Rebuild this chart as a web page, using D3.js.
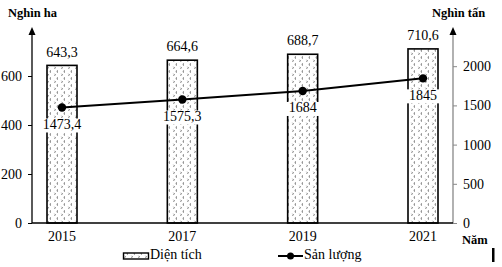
<!DOCTYPE html>
<html><head><meta charset="utf-8">
<script src="https://cdn.jsdelivr.net/npm/d3@7"></script>
<style>
html,body{margin:0;padding:0;background:#fff;}
svg{display:block;}
svg text{font-family:"Liberation Serif","Times New Roman",serif !important;fill:#000;}
</style></head>
<body><svg id="c" width="502" height="267"></svg>
<script>
const years = ["2015", "2017", "2019", "2021"];
const areaValues = [643.3, 664.6, 688.7, 710.6];
const outputValues = [1473.4, 1575.3, 1684, 1845];
const areaLabels = ["643,3", "664,6", "688,7", "710,6"];
const outputLabels = ["1473,4", "1575,3", "1684", "1845"];
const leftTicks = [0, 200, 400, 600];
const rightTicks = [0, 500, 1000, 1500, 2000];

const FS = 14;
const svg = d3.select("#c");
const defs = svg.append("defs");
const pat = defs.append("pattern").attr("id", "pat").attr("patternUnits", "userSpaceOnUse")
  .attr("width", 7).attr("height", 7);
pat.append("rect").attr("width", 7).attr("height", 7).attr("fill", "#fff");
pat.append("path").attr("d", "M2,0.5 L0.8,1.5 L2,2.5 M5.5,3.8 L6.5,4.8 L5.5,5.8")
  .attr("stroke", "#444").attr("stroke-width", 0.8).attr("fill", "none");

const x = d3.scalePoint().domain(years).range([62, 423]);
const yL = d3.scaleLinear().domain([0, 800]).range([223, 27]);
const yR = d3.scaleLinear().domain([0, 2500]).range([223, 27]);
const barW = 30;

// bars
svg.append("g").selectAll("rect").data(years).join("rect")
  .attr("x", d => x(d) - barW / 2)
  .attr("y", (d, i) => yL(areaValues[i]))
  .attr("width", barW)
  .attr("height", (d, i) => yL(0) - yL(areaValues[i]))
  .attr("fill", "url(#pat)")
  .attr("stroke", "#000").attr("stroke-width", 1.6);

// left axis
const gl = svg.append("g").attr("transform", "translate(32,0)")
  .call(d3.axisLeft(yL).tickValues(leftTicks).tickSize(4).tickPadding(6).tickFormat(d3.format("d")));
gl.select(".domain").remove();
gl.selectAll("text").attr("font-size", FS);
gl.selectAll("line").attr("stroke", "#000");
svg.append("line").attr("x1", 32).attr("x2", 32).attr("y1", yL(0)).attr("y2", 34)
  .attr("stroke", "#000").attr("stroke-width", 1.3);
svg.append("path").attr("d", "M32,27 L28.5,35 L35.5,35 Z").attr("fill", "#000");

// right axis
const gr = svg.append("g").attr("transform", "translate(453,0)")
  .call(d3.axisRight(yR).tickValues(rightTicks).tickSize(4).tickPadding(6).tickFormat(d3.format("d")));
gr.select(".domain").remove();
gr.selectAll("text").attr("font-size", FS);
gr.selectAll("line").attr("stroke", "#888");
svg.append("line").attr("x1", 453).attr("x2", 453).attr("y1", yR(0)).attr("y2", 34)
  .attr("stroke", "#888").attr("stroke-width", 1.3);
svg.append("path").attr("d", "M453,27 L449.5,35 L456.5,35 Z").attr("fill", "#000");

// bottom axis
svg.append("line").attr("x1", 32).attr("x2", 453).attr("y1", yL(0)).attr("y2", yL(0))
  .attr("stroke", "#000").attr("stroke-width", 1.6);
svg.append("g").selectAll("text").data(years).join("text")
  .attr("x", d => x(d)).attr("y", 238).attr("text-anchor", "middle").attr("dominant-baseline", "middle")
  .attr("font-size", FS).text(d => d);

// bar labels
svg.append("g").selectAll("text").data(years).join("text")
  .attr("x", d => x(d)).attr("y", (d, i) => yL(areaValues[i]) - 12)
  .attr("text-anchor", "middle").attr("dominant-baseline", "middle")
  .attr("font-size", FS).text((d, i) => areaLabels[i]);

// line label backgrounds + labels
const lab = svg.append("g").selectAll("g").data(years).join("g")
  .attr("transform", (d, i) => `translate(${x(d)},${yR(outputValues[i]) + 18})`);
lab.append("rect").attr("x", (d, i) => -Math.max(outputLabels[i].length * 3.6, barW / 2 + 2)).attr("y", -7)
  .attr("width", (d, i) => 2 * Math.max(outputLabels[i].length * 3.6, barW / 2 + 2)).attr("height", 14).attr("fill", "#fff");
lab.append("text").attr("text-anchor", "middle").attr("dominant-baseline", "middle")
  .attr("font-size", FS).text((d, i) => outputLabels[i]);

// line
const line = d3.line().x(d => x(d[0])).y(d => yR(d[1]));
svg.append("path").datum(years.map((d, i) => [d, outputValues[i]]))
  .attr("d", line).attr("fill", "none").attr("stroke", "#000").attr("stroke-width", 2);
svg.append("g").selectAll("circle").data(years).join("circle")
  .attr("cx", d => x(d)).attr("cy", (d, i) => yR(outputValues[i])).attr("r", 4.2).attr("fill", "#000");

// axis titles
svg.append("text").attr("x", 8).attr("y", 14).attr("dominant-baseline", "middle")
  .attr("font-size", 12.5).attr("font-weight", "bold").text("Nghìn ha");
svg.append("text").attr("x", 432).attr("y", 14).attr("dominant-baseline", "middle")
  .attr("font-size", 12.5).attr("font-weight", "bold").text("Nghìn tấn");
svg.append("text").attr("x", 462).attr("y", 241).attr("dominant-baseline", "middle")
  .attr("font-size", 12.5).attr("font-weight", "bold").text("Năm");

// legend
svg.append("rect").attr("x", 123.5).attr("y", 253).attr("width", 25).attr("height", 6)
  .attr("fill", "url(#pat)").attr("stroke", "#000").attr("stroke-width", 1.4);
svg.append("text").attr("x", 150).attr("y", 256).attr("dominant-baseline", "middle")
  .attr("font-size", FS).text("Diện tích");
svg.append("line").attr("x1", 278).attr("x2", 303).attr("y1", 256).attr("y2", 256)
  .attr("stroke", "#000").attr("stroke-width", 2);
svg.append("circle").attr("cx", 290.5).attr("cy", 256).attr("r", 3.5).attr("fill", "#000");
svg.append("text").attr("x", 304).attr("y", 256).attr("dominant-baseline", "middle")
  .attr("font-size", FS).text("Sản lượng");

// stray mark at bottom right
svg.append("rect").attr("x", 492).attr("y", 248).attr("width", 2.5).attr("height", 14).attr("fill", "#000");
</script></body></html>
